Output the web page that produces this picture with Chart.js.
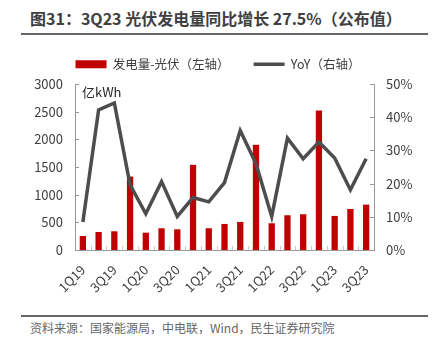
<!DOCTYPE html>
<html>
<head>
<meta charset="utf-8">
<script src="https://cdn.jsdelivr.net/npm/chart.js@4"></script>
<style>
  body { margin:0; background:#fff; font-family:"Noto Sans CJK SC", sans-serif; }
  #page { position:relative; width:436px; height:348px; overflow:hidden; }
  #title { position:absolute; left:30px; top:6px; font-size:16px; font-weight:bold; color:#404040; white-space:nowrap; }
  .rule { position:absolute; left:21px; width:407px; height:2px; background:#666; }
  #box { position:absolute; left:0; top:34px; width:436px; height:276px; }
  #src { position:absolute; left:30px; top:319px; font-size:12px; color:#666; white-space:nowrap; }
</style>
</head>
<body>
<div id="page">
  <div id="title">图31：3Q23 光伏发电量同比增长 27.5%（公布值）</div>
  <div class="rule" style="top:33px"></div>
  <div id="box"><canvas id="chart1" width="436" height="276"></canvas></div>
  <div class="rule" style="top:315px"></div>
  <div id="src">资料来源：国家能源局，中电联，Wind，民生证券研究院</div>
</div>
<script>
// ===== 数据 =====
const quarters = ['1Q19','2Q19','3Q19','4Q19','1Q20','2Q20','3Q20','4Q20','1Q21','2Q21','3Q21','4Q21',
                  '1Q22','2Q22','3Q22','4Q22','1Q23','2Q23','3Q23'];
const pvOutput = [253, 326, 338, 1327, 313, 393, 374, 1539, 393, 471, 507, 1901,
                  483, 628, 646, 2522, 616, 742, 820];
const pvYoY = [8.4, 42.2, 44.3, 19.6, 10.9, 20.6, 10.1, 15.8, 14.5, 20.3, 36.0, 26.0,
               10.1, 33.7, 27.5, 32.5, 27.7, 18.1, 27.5];
const leftTicks = [0, 500, 1000, 1500, 2000, 2500, 3000];
const rightTicks = [0, 10, 20, 30, 40, 50];

const txt = '#404040';
const axisGray = '#999';
const font = { family: '"Noto Sans CJK SC", sans-serif', size: 13 };

// 图例高度固定
const legendHeight = {
  id: 'legendHeight',
  beforeInit(chart) {
    const fit = chart.legend.fit;
    chart.legend.fit = function () { fit.bind(chart.legend)(); this.height = 50; };
  }
};

// 向内的刻度 + 单位
const innerTicks = {
  id: 'innerTicks',
  afterDatasetsDraw(chart) {
    const { ctx, chartArea: a, scales } = chart;
    ctx.save();
    ctx.lineWidth = 1;
    ctx.strokeStyle = axisGray;
    const seg = (x1, y1, x2, y2) => { ctx.beginPath(); ctx.moveTo(x1, y1); ctx.lineTo(x2, y2); ctx.stroke(); };
    scales.y.ticks.forEach((t, i) => {
      const y = Math.round(scales.y.getPixelForTick(i)) + 0.5;
      seg(a.left, y, a.left + 4, y);
    });
    scales.y1.ticks.forEach((t, i) => {
      const y = Math.round(scales.y1.getPixelForTick(i)) + 0.5;
      seg(a.right - 4, y, a.right, y);
    });
    ctx.strokeStyle = '#ccc';
    const n = quarters.length;
    for (let i = 1; i < n; i++) {
      const x = Math.round(a.left + i * (a.right - a.left) / n) + 0.5;
      seg(x, a.bottom - 4, x, a.bottom);
    }
    ctx.fillStyle = '#262626';
    ctx.font = '13px "Noto Sans CJK SC", sans-serif';
    ctx.textBaseline = 'top';
    ctx.fillText('亿kWh', a.left + 7, a.top + 2);
    ctx.restore();
  }
};

new Chart(document.getElementById('chart1').getContext('2d'), {
  data: {
    labels: quarters,
    datasets: [
      { type: 'line', label: 'YoY（右轴）', data: pvYoY, yAxisID: 'y1', borderColor: '#4d4d4d',
        backgroundColor: '#4d4d4d', borderWidth: 3.5, pointRadius: 0, tension: 0, pointStyle: 'line', order: 0 },
      { type: 'bar', label: '发电量-光伏（左轴）', data: pvOutput, yAxisID: 'y', backgroundColor: '#c00000',
        categoryPercentage: 1, barPercentage: 0.4, pointStyle: 'rect', order: 1 }
    ]
  },
  options: {
    responsive: false,
    animation: false,
    devicePixelRatio: 1,
    layout: { padding: 0 },
    plugins: {
      legend: {
        reverse: true,
        labels: { usePointStyle: true, pointStyleWidth: 31, boxHeight: 8, padding: 24,
                  color: txt, font: { family: font.family, size: 12.5 } }
      },
      tooltip: { enabled: false }
    },
    scales: {
      x: {
        grid: { display: false },
        border: { color: axisGray },
        ticks: { autoSkip: false, maxRotation: 45, minRotation: 45, padding: 4, color: txt, font,
                 callback: (v, i) => (i % 2 === 0 ? quarters[i] : '') },
        afterFit: s => { s.height = 60; }
      },
      y: {
        position: 'left', min: 0, max: 3000,
        grid: { display: false, drawTicks: false },
        border: { color: axisGray },
        afterBuildTicks: s => { s.ticks = leftTicks.map(v => ({ value: v })); },
        ticks: { padding: 12, color: txt, font, callback: v => String(v) },
        afterFit: s => { s.width = 75; }
      },
      y1: {
        position: 'right', min: 0, max: 50,
        grid: { display: false, drawTicks: false },
        border: { color: axisGray },
        afterBuildTicks: s => { s.ticks = rightTicks.map(v => ({ value: v })); },
        ticks: { padding: 12, color: txt, font, callback: v => v + '%' },
        afterFit: s => { s.width = 62; }
      }
    }
  },
  plugins: [legendHeight, innerTicks]
});
</script>
</body>
</html>
